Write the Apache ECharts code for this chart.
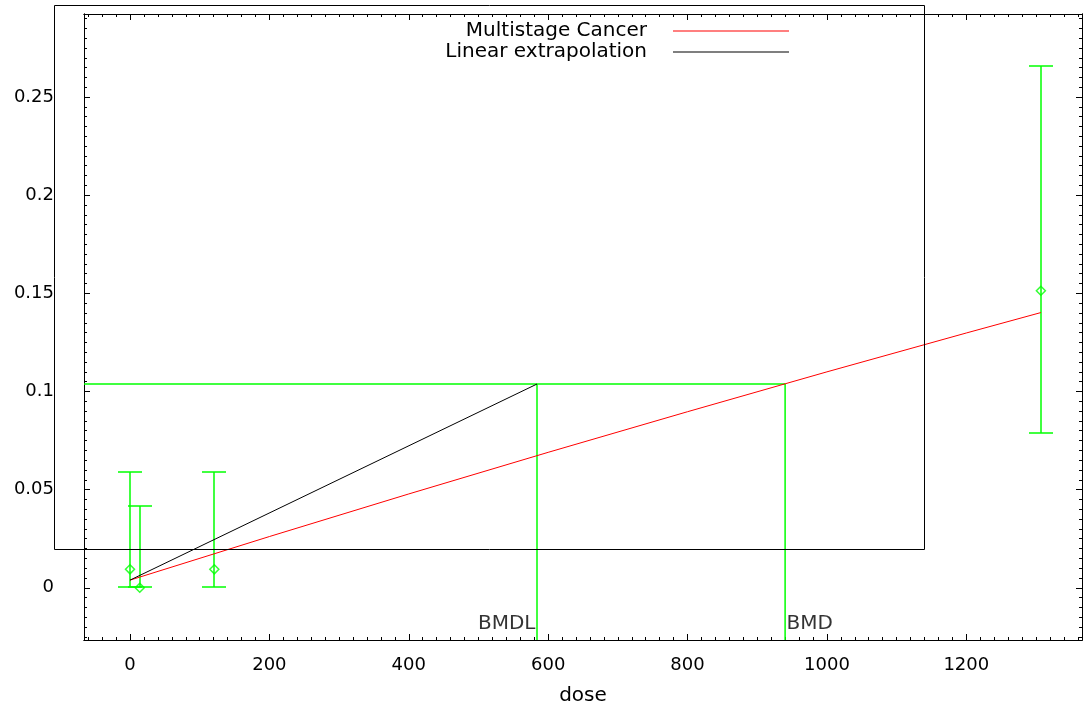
<!DOCTYPE html>
<html>
<head>
    <meta charset="UTF-8">
    <title>Multistage Cancer</title>
    <script src="https://cdn.jsdelivr.net/npm/echarts@6/dist/echarts.min.js"></script>
    <style>
        html, body { margin: 0; padding: 0; background: #fff; overflow: hidden; }
        #chart { width: 1083px; height: 704px; }
    </style>
</head>
<body>
    <div id="chart"></div>

    <script>
        // observed data with error bars
        const doses = [0, 14, 121, 1307];
        const means = [0.0094, 0, 0.0094, 0.1513];
        const lower = [0.0005, 0.0005, 0.0005, 0.0788];
        const upper = [0.0588, 0.0418, 0.0588, 0.2658];

        // fitted multistage curve
        const curveDose = [0, 200, 400, 600, 800, 1000, 1200, 1307];
        const curveResp = [0.0039, 0.0261, 0.0478, 0.0690, 0.0897, 0.1100, 0.1298, 0.1402];

        // linear extrapolation
        const extrapDose = [0, 584];
        const extrapResp = [0.0039, 0.1038];

        // BMR / BMDL / BMD
        const bmr = 0.1038;
        const bmdl = 584;
        const bmd = 940;

        // axes
        const xMin = -66, xMax = 1366;
        const yMin = -0.0266, yMax = 0.2923;
        const xTicks = [0, 200, 400, 600, 800, 1000, 1200];
        const yTicks = [0, 0.05, 0.1, 0.15, 0.2, 0.25];

        const xMinor = [];
        for (let v = -60; v <= 1360; v += 20) xMinor.push(v);
        const yMinor = [];
        for (let i = -5; i <= 58; i++) yMinor.push(+(i * 0.005).toFixed(3));

        const FONT = 'DejaVu Sans';
        const GREEN = '#00ff00';
        const RED = '#ff0000';

        const chart = echarts.init(document.getElementById('chart'));

        function xAx(pos, ticks, len, extra) {
            return Object.assign({
                type: 'value', position: pos, min: xMin, max: xMax,
                axisLine: { show: true, onZero: false, lineStyle: { color: '#000', width: 1 } },
                axisTick: { show: true, inside: true, length: len, customValues: ticks, lineStyle: { color: '#000' } },
                axisLabel: { show: false },
                splitLine: { show: false }
            }, extra || {});
        }
        function yAx(pos, ticks, len, extra) {
            return Object.assign({
                type: 'value', position: pos, min: yMin, max: yMax,
                axisLine: { show: true, onZero: false, lineStyle: { color: '#000', width: 1 } },
                axisTick: { show: true, inside: true, length: len, customValues: ticks, lineStyle: { color: '#000' } },
                axisLabel: { show: false },
                splitLine: { show: false }
            }, extra || {});
        }

        const legendBase = {
            orient: 'vertical', align: 'right', icon: 'rect', itemWidth: 116, itemHeight: 1, padding: 0,
            textStyle: { fontFamily: FONT, fontSize: 20, color: '#000', padding: [0, 21, 0, 0] }
        };

        const option = {
            animation: false,
            backgroundColor: '#fff',
            textStyle: { fontFamily: FONT },
            grid: { left: 84, right: 1, top: 14, bottom: 64, containLabel: false, outerBoundsMode: 'none' },
            legend: [
                Object.assign({
                    data: [{ name: 'Multistage Cancer', itemStyle: { color: RED } }], right: 294, top: 21
                }, legendBase),
                Object.assign({
                    data: [{ name: 'Linear extrapolation', itemStyle: { color: '#000' } }], right: 294, top: 42
                }, legendBase)
            ],
            xAxis: [
                xAx('bottom', xTicks, 6, {
                    name: 'dose', nameLocation: 'middle', nameGap: 46,
                    nameTextStyle: { fontFamily: FONT, fontSize: 20, color: '#000' },
                    axisLabel: {
                        show: true, customValues: xTicks, margin: 16, fontFamily: FONT, fontSize: 18, color: '#000',
                        formatter: v => String(v)
                    }
                }),
                xAx('bottom', xMinor, 3),
                xAx('top', xTicks, 6),
                xAx('top', xMinor, 3)
            ],
            yAxis: [
                yAx('left', yTicks, 6, {
                    axisLabel: {
                        show: true, customValues: yTicks, margin: 30, fontFamily: FONT, fontSize: 18, color: '#000',
                        formatter: v => String(v)
                    }
                }),
                yAx('left', yMinor, 3),
                yAx('right', yTicks, 6),
                yAx('right', yMinor, 3)
            ],
            graphic: [{
                type: 'rect', z: 100,
                shape: { x: 54.5, y: 5.5, width: 870, height: 544 },
                style: { fill: 'none', stroke: '#000', lineWidth: 1 }
            }],
            series: [
                {
                    name: 'BMR', type: 'line', showSymbol: false, silent: true,
                    data: [[xMin, bmr], [bmd, bmr]],
                    lineStyle: { color: GREEN, width: 1.5 }, itemStyle: { color: GREEN }
                },
                {
                    name: 'BMDL line', type: 'line', showSymbol: false, silent: true,
                    data: [[bmdl, bmr], [bmdl, yMin]],
                    lineStyle: { color: GREEN, width: 1.5 }, itemStyle: { color: GREEN }
                },
                {
                    name: 'BMD line', type: 'line', showSymbol: false, silent: true,
                    data: [[bmd, bmr], [bmd, yMin]],
                    lineStyle: { color: GREEN, width: 1.5 }, itemStyle: { color: GREEN }
                },
                {
                    name: 'labels', type: 'scatter', symbolSize: 1, silent: true,
                    itemStyle: { color: 'transparent' },
                    data: [
                        { name: 'BMDL', value: [bmdl, yMin], label: { position: 'left', distance: 1 } },
                        { name: 'BMD', value: [bmd, yMin], label: { position: 'right', distance: 1 } }
                    ],
                    label: {
                        show: true, formatter: '{b}', offset: [0, -16],
                        fontFamily: FONT, fontSize: 20, color: '#000'
                    }
                },
                {
                    name: 'error bars', type: 'custom', silent: true,
                    data: doses.map((d, i) => [d, lower[i], upper[i]]),
                    renderItem: function (params, api) {
                        const lo = api.coord([api.value(0), api.value(1)]);
                        const hi = api.coord([api.value(0), api.value(2)]);
                        const x = Math.round(lo[0]);
                        const y1 = Math.round(lo[1]);
                        const y2 = Math.round(hi[1]);
                        const st = { stroke: GREEN, lineWidth: 1.5 };
                        return {
                            type: 'group',
                            children: [
                                { type: 'line', shape: { x1: x, y1: y1, x2: x, y2: y2 }, style: st },
                                { type: 'line', shape: { x1: x - 12, y1: y1, x2: x + 12, y2: y1 }, style: st },
                                { type: 'line', shape: { x1: x - 12, y1: y2, x2: x + 12, y2: y2 }, style: st }
                            ]
                        };
                    }
                },
                {
                    name: 'observed', type: 'scatter', symbol: 'diamond', symbolSize: 9, silent: true,
                    data: doses.map((d, i) => [d, means[i]]),
                    itemStyle: { color: 'transparent', borderColor: GREEN, borderWidth: 1.5 },
                    z: 5
                },
                {
                    name: 'Multistage Cancer', type: 'line', showSymbol: false, silent: true, smooth: false,
                    data: curveDose.map((d, i) => [d, curveResp[i]]),
                    lineStyle: { color: RED, width: 1 }, itemStyle: { color: RED }
                },
                {
                    name: 'Linear extrapolation', type: 'line', showSymbol: false, silent: true,
                    data: extrapDose.map((d, i) => [d, extrapResp[i]]),
                    lineStyle: { color: '#000', width: 1 }, itemStyle: { color: '#000' }
                }
            ]
        };

        chart.setOption(option);
    </script>
</body>
</html>
